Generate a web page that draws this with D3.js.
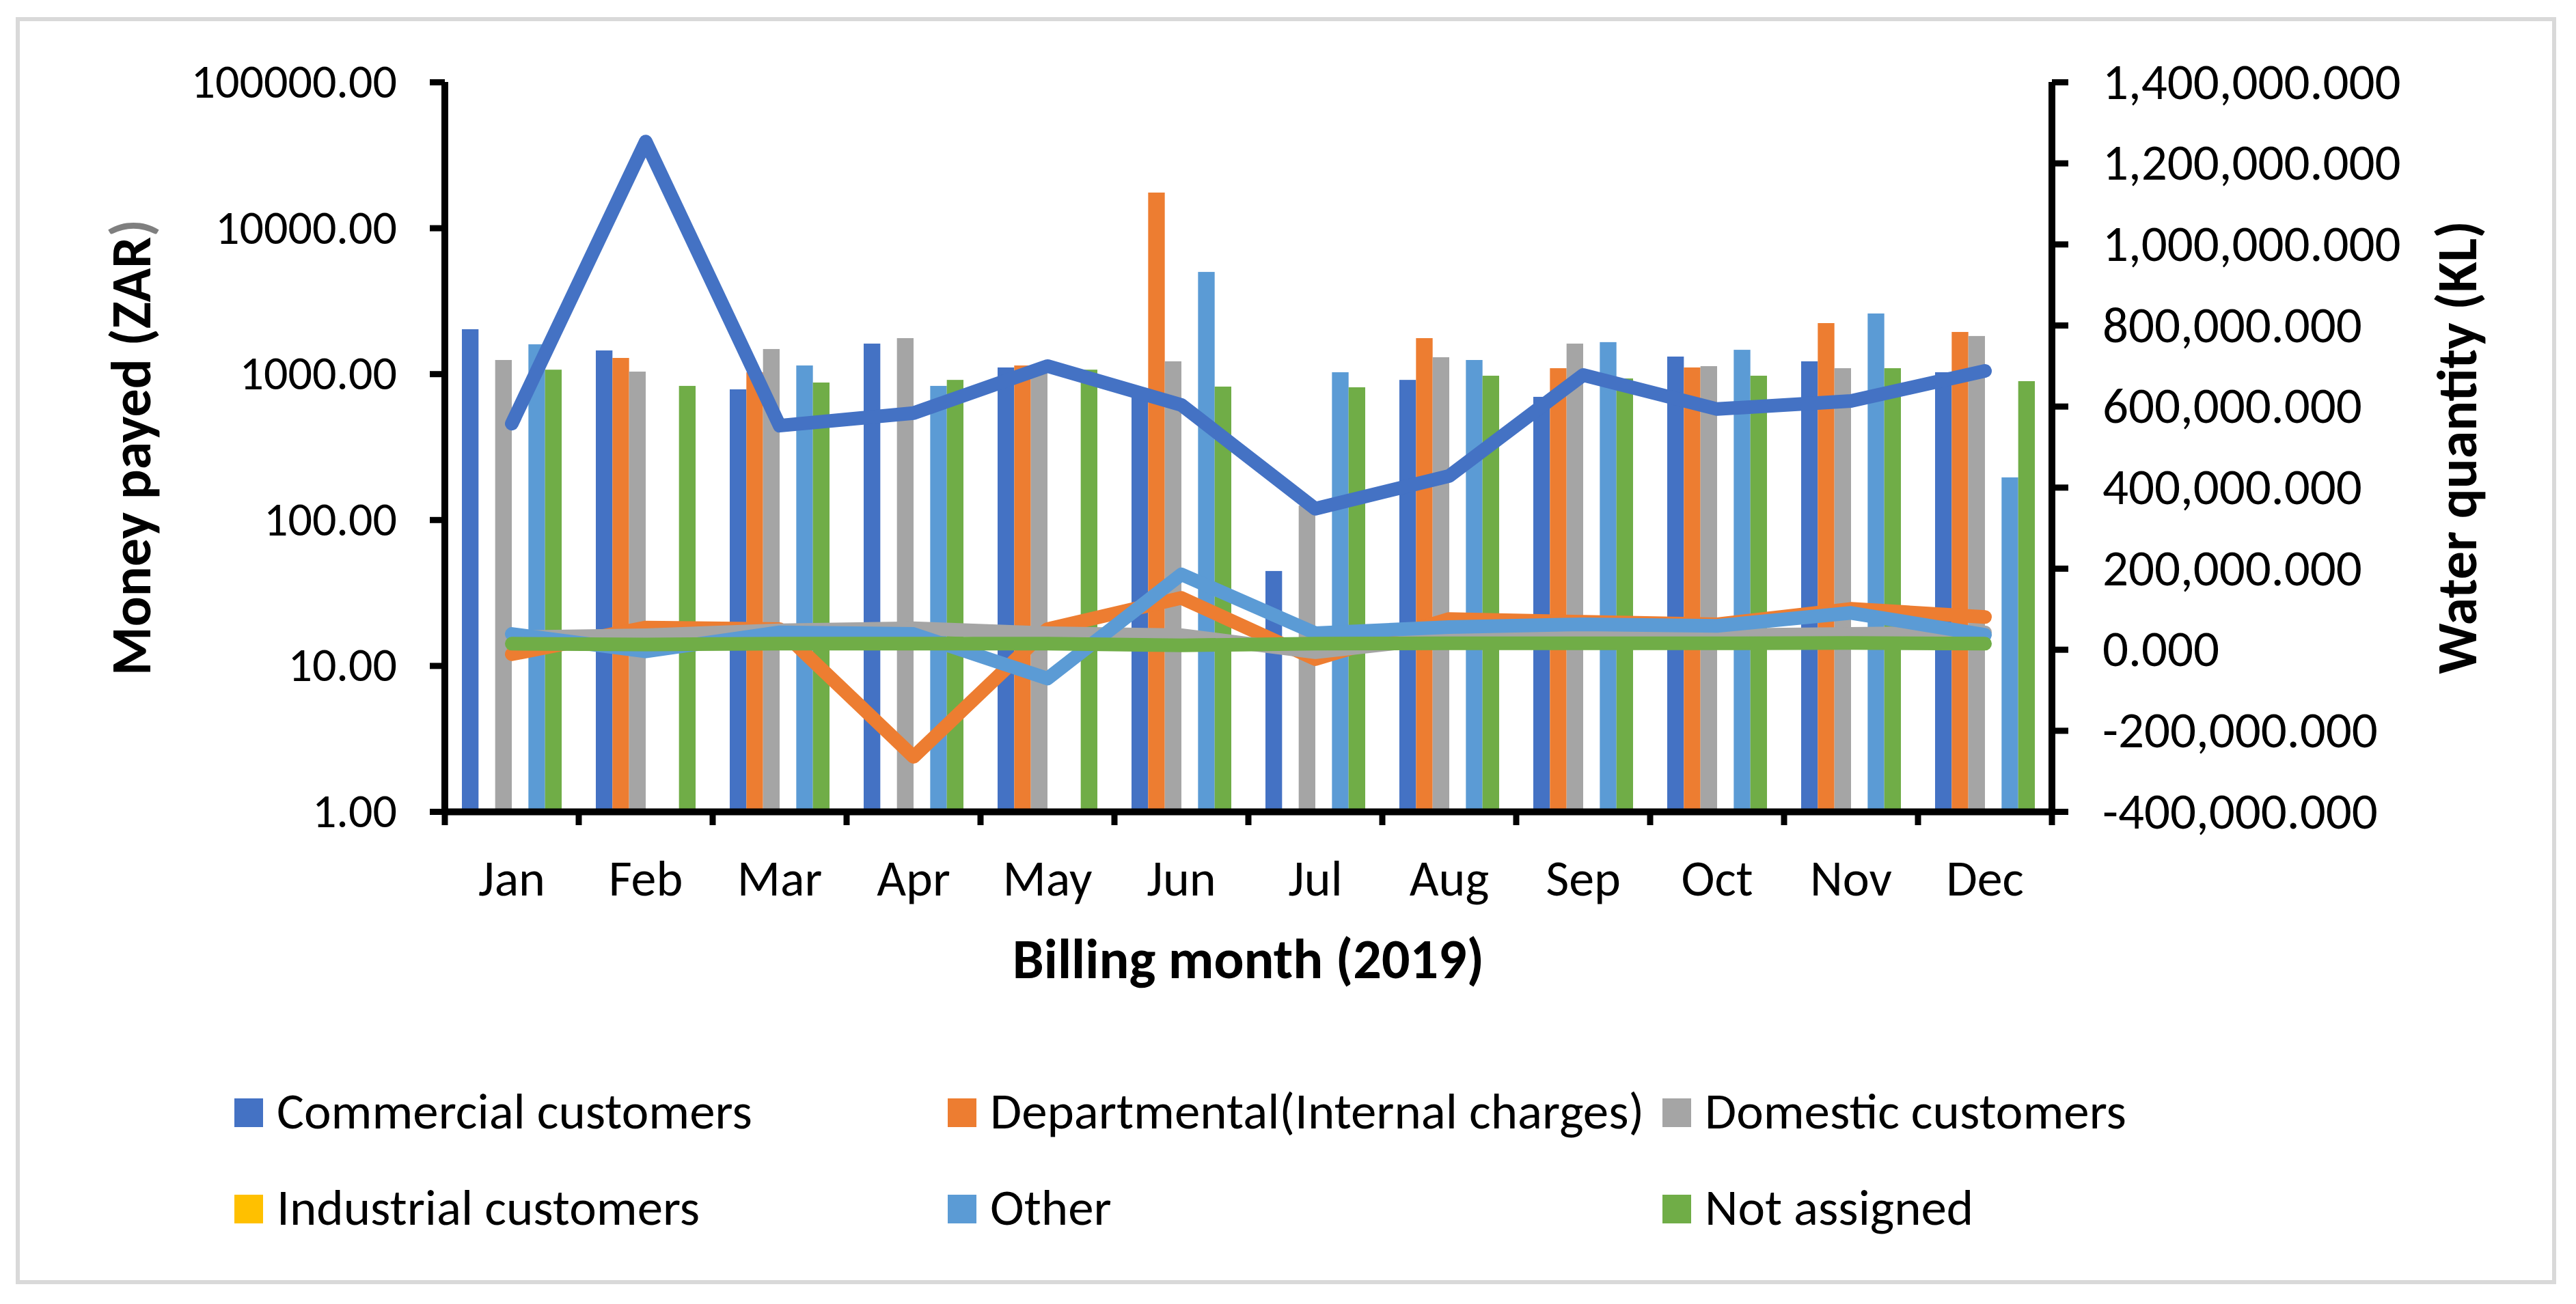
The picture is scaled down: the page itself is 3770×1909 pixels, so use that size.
<!DOCTYPE html>
<html>
<head>
<meta charset="utf-8">
<script src="https://cdn.jsdelivr.net/npm/d3@7"></script>
<style>
  body { margin: 0; background: #fff; }
  text { font-family: Carlito, Calibri, Lato, sans-serif; }
</style>
</head>
<body>
<div id="chart"></div>
<script>
// Données (facturation 2019)
const months = ["Jan", "Feb", "Mar", "Apr", "May", "Jun", "Jul", "Aug", "Sep", "Oct", "Nov", "Dec"];
const seriesNames = ["Commercial customers", "Departmental(Internal charges)", "Domestic customers",
                     "Industrial customers", "Other", "Not assigned"];
const seriesColors = ["#4472C4", "#ED7D31", "#A5A5A5", "#FFC000", "#5B9BD5", "#70AD47"];

// Montant payé (ZAR) - barres, axe log
const commercialMoney   = [2020, 1445, 782, 1610, 1105, 741, 44.5, 908, 695, 1312, 1217, 1025];
const departmentalMoney = [null, 1284, 1024, null, 1140, 17460, null, 1755, 1092, 1105, 2225, 1935];
const domesticMoney     = [1243, 1035, 1478, 1755, 1100, 1217, 125, 1298, 1610, 1128, 1092, 1815];
const industrialMoney   = [null, null, null, null, null, null, null, null, null, null, null, null];
const otherMoney        = [1592, null, 1140, 826, null, 4990, 1025, 1243, 1648, 1460, 2590, 195];
const notAssignedMoney  = [1067, 826, 871, 908, 1067, 817, 808, 970, 929, 970, 1092, 890];

// Quantité d'eau (KL) - lignes, axe secondaire
const commercialWater   = [557000, 1253000, 552000, 583000, 699000, 603000, 347000, 428000, 677000, 593000, 613000, 687000];
const departmentalWater = [-12000, 54000, 50000, -265000, 50000, 127000, -24000, 75000, 68000, 62000, 100000, 80000];
const domesticWater     = [30000, 35000, 47000, 52000, 40000, 35000, -7000, 30000, 35000, 35000, 38000, 42000];
const industrialWater   = [null, null, null, null, null, null, null, null, null, null, null, null];
const otherWater        = [38000, -5000, 42000, 38000, -72000, 185000, 40000, 55000, 62000, 58000, 90000, 36000];
const notAssignedWater  = [14000, 12000, 14000, 14000, 14000, 10000, 14000, 15000, 15000, 15000, 16000, 14000];

const leftTicks = [1, 10, 100, 1000, 10000, 100000];
const rightTicks = [-400000, -200000, 0, 200000, 400000, 600000, 800000, 1000000, 1200000, 1400000];

const moneySeries = [commercialMoney, departmentalMoney, domesticMoney, industrialMoney, otherMoney, notAssignedMoney];
const waterSeries = [commercialWater, departmentalWater, domesticWater, industrialWater, otherWater, notAssignedWater];

const width = 3770, height = 1909;
const plot = { left: 651, right: 3003, top: 120, bottom: 1188 };

const svg = d3.select("#chart").append("svg")
    .attr("width", width)
    .attr("height", height);

svg.append("rect").attr("width", width).attr("height", height).attr("fill", "#fff");

// Cadre gris du graphique
svg.append("rect")
    .attr("x", 26).attr("y", 28)
    .attr("width", 3712).attr("height", 1849)
    .attr("fill", "none")
    .attr("stroke", "#d9d9d9")
    .attr("stroke-width", 6);

// Échelles
const x = d3.scaleBand()
    .domain(months)
    .range([plot.left, plot.right])
    .paddingInner(0.255)
    .paddingOuter(0.1275);

const xSub = d3.scaleBand()
    .domain(d3.range(seriesNames.length))
    .range([0, x.bandwidth()]);

const yLeft = d3.scaleLog()
    .domain([1, 100000])
    .range([plot.bottom, plot.top]);

const yRight = d3.scaleLinear()
    .domain([-400000, 1400000])
    .range([plot.bottom, plot.top]);

const fmtRight = d3.formatLocale({ decimal: ".", thousands: ",", grouping: [3], currency: ["", ""], minus: "-" }).format(",.3f");

// Barres
seriesNames.forEach((name, si) => {
    svg.append("g")
        .selectAll("rect")
        .data(months.map((m, i) => ({ m, v: moneySeries[si][i] })).filter(d => d.v != null))
        .join("rect")
        .attr("x", d => x(d.m) + xSub(si))
        .attr("width", xSub.bandwidth())
        .attr("y", d => yLeft(d.v))
        .attr("height", d => yLeft(1) - yLeft(d.v))
        .attr("fill", seriesColors[si]);
});

// Lignes
const line = d3.line()
    .defined(d => d.v != null)
    .x(d => x(d.m) + x.bandwidth() / 2)
    .y(d => yRight(d.v));

seriesNames.forEach((name, si) => {
    const data = months.map((m, i) => ({ m, v: waterSeries[si][i] }));
    if (data.every(d => d.v == null)) return;
    svg.append("path")
        .datum(data)
        .attr("d", line)
        .attr("fill", "none")
        .attr("stroke", seriesColors[si])
        .attr("stroke-width", 20)
        .attr("stroke-linecap", "round")
        .attr("stroke-linejoin", "round");
});

// Axe gauche
const axisLeft = d3.axisLeft(yLeft)
    .tickValues(leftTicks)
    .tickFormat(d3.format(".2f"))
    .tickSize(22)
    .tickPadding(48);

const gLeft = svg.append("g")
    .attr("transform", `translate(${plot.left},0)`)
    .call(axisLeft);

// Axe droit
const axisRight = d3.axisRight(yRight)
    .tickValues(rightTicks)
    .tickFormat(fmtRight)
    .tickSize(24)
    .tickPadding(50);

const gRight = svg.append("g")
    .attr("transform", `translate(${plot.right},0)`)
    .call(axisRight);

// Axe des mois
const axisBottom = d3.axisBottom(x)
    .tickSize(0)
    .tickPadding(70);

const gBottom = svg.append("g")
    .attr("transform", `translate(0,${plot.bottom})`)
    .call(axisBottom);

// Graduations entre les catégories
svg.append("g")
    .selectAll("line")
    .data(d3.range(months.length + 1))
    .join("line")
    .attr("x1", i => plot.left + i * x.step())
    .attr("x2", i => plot.left + i * x.step())
    .attr("y1", plot.bottom)
    .attr("y2", plot.bottom + 20)
    .attr("stroke", "#000")
    .attr("stroke-width", 9);

[gLeft, gRight, gBottom].forEach(g => {
    g.select(".domain").attr("stroke", "#000").attr("stroke-width", 10);
    g.selectAll(".tick line").attr("stroke", "#000").attr("stroke-width", 9);
    g.selectAll("text")
        .attr("fill", "#000")
        .style("font-family", "Carlito, Calibri, Lato, sans-serif");
});
gLeft.selectAll("text").attr("font-size", 70);
gRight.selectAll("text").attr("font-size", 75);
gBottom.selectAll("text").attr("font-size", 74);
gLeft.select(".domain").attr("d", `M0,${plot.top}V${plot.bottom}`);
gRight.select(".domain").attr("d", `M0,${plot.top}V${plot.bottom}`);

// Titres des axes
const leftTitle = svg.append("text")
    .attr("transform", `translate(220,655) rotate(-90)`)
    .attr("text-anchor", "middle")
    .attr("font-size", 82)
    .attr("font-weight", "bold");
leftTitle.append("tspan").text("Money payed (ZAR");
leftTitle.append("tspan").attr("fill", "#7f7f7f").text(")");

svg.append("text")
    .attr("transform", `translate(3624,655) rotate(-90)`)
    .attr("text-anchor", "middle")
    .attr("font-size", 82)
    .attr("font-weight", "bold")
    .text("Water quantity (KL)");

svg.append("text")
    .attr("x", (plot.left + plot.right) / 2)
    .attr("y", 1432)
    .attr("text-anchor", "middle")
    .attr("font-size", 82)
    .attr("font-weight", "bold")
    .text("Billing month (2019)");

// Légende
const legendCols = [343, 1387, 2433];
const legendRows = [1608, 1749];
const legend = svg.append("g")
    .selectAll("g")
    .data(seriesNames)
    .join("g")
    .attr("transform", (d, i) => `translate(${legendCols[i % 3]},${legendRows[Math.floor(i / 3)]})`);

legend.append("rect")
    .attr("width", 42)
    .attr("height", 42)
    .attr("fill", (d, i) => seriesColors[i]);

legend.append("text")
    .attr("x", 62)
    .attr("y", 44)
    .attr("font-size", 75)
    .text(d => d);
</script>
</body>
</html>
